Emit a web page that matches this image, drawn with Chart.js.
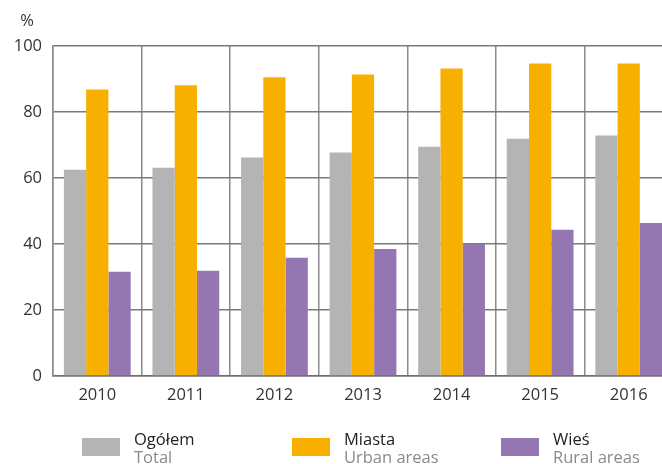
<!DOCTYPE html>
<html>
<head>
<meta charset="utf-8">
<script src="https://cdn.jsdelivr.net/npm/chart.js@4"></script>
<style>
    html, body { margin: 0; padding: 0; background: #fff; overflow: hidden; }
    #wrap { width: 690px; height: 464px; }
</style>
</head>
<body>
<div id="wrap"><canvas id="chart" width="690" height="464"></canvas></div>
<script>
const years = ["2010", "2011", "2012", "2013", "2014", "2015", "2016"];
const ogolem = [62.5, 63.1, 66.2, 67.7, 69.5, 71.9, 72.9];
const miasta = [86.8, 88.1, 90.5, 91.4, 93.2, 94.7, 94.7];
const wies = [31.6, 31.9, 35.8, 38.5, 40.0, 44.3, 46.4];
const yTicks = [0, 20, 40, 60, 80, 100];

const legendItems = [
    { pl: "Ogółem", en: "Total", color: "#b4b4b4", x: 82 },
    { pl: "Miasta", en: "Urban areas", color: "#f8b000", x: 292 },
    { pl: "Wieś", en: "Rural areas", color: "#9477b0", x: 501 }
];

const FONT = "'Open Sans', sans-serif";

// legend with two-line labels + the "%" unit label
const extras = {
    id: "extras",
    afterDraw(chart) {
        const ctx = chart.ctx;
        ctx.save();
        ctx.font = "16.5px " + FONT;
        ctx.fillStyle = "#333";
        ctx.textAlign = "center";
        ctx.textBaseline = "alphabetic";
        ctx.fillText("%", 27, 26);

        ctx.textAlign = "left";
        legendItems.forEach(item => {
            ctx.fillStyle = item.color;
            ctx.fillRect(item.x, 438, 38, 18);
            ctx.fillStyle = "#222";
            ctx.fillText(item.pl, item.x + 52, 445);
            ctx.fillStyle = "#8a8a8a";
            ctx.fillText(item.en, item.x + 52, 463);
        });
        ctx.restore();
    }
};

new Chart(document.getElementById("chart"), {
    type: "bar",
    data: {
        labels: years,
        datasets: [
            { label: "Ogółem", data: ogolem, backgroundColor: "#b4b4b4" },
            { label: "Miasta", data: miasta, backgroundColor: "#f8b000" },
            { label: "Wieś", data: wies, backgroundColor: "#9477b0" }
        ]
    },
    options: {
        responsive: false,
        animation: false,
        datasets: { bar: { barPercentage: 1, categoryPercentage: 0.754 } },
        layout: { padding: { top: 46, right: 17, left: 0, bottom: 0 } },
        plugins: { legend: { display: false }, tooltip: { enabled: false } },
        scales: {
            x: {
                grid: { color: "#8c8c8c", lineWidth: 1.5, drawTicks: false, offset: true },
                border: { color: "#6e6e6e", width: 1.5 },
                ticks: { color: "#333", font: { family: FONT, size: 16.5 }, padding: 9 },
                afterFit: s => { s.height = 88; }
            },
            y: {
                min: 0,
                max: 100,
                afterBuildTicks: s => { s.ticks = yTicks.map(v => ({ value: v })); },
                grid: { color: "#7a7a7a", lineWidth: 1.5, drawTicks: false },
                border: { color: "#8c8c8c", width: 1.5 },
                ticks: { color: "#333", font: { family: FONT, size: 16.5 }, padding: 11 },
                afterFit: s => { s.width = 53; }
            }
        }
    },
    plugins: [extras]
});
</script>
</body>
</html>
